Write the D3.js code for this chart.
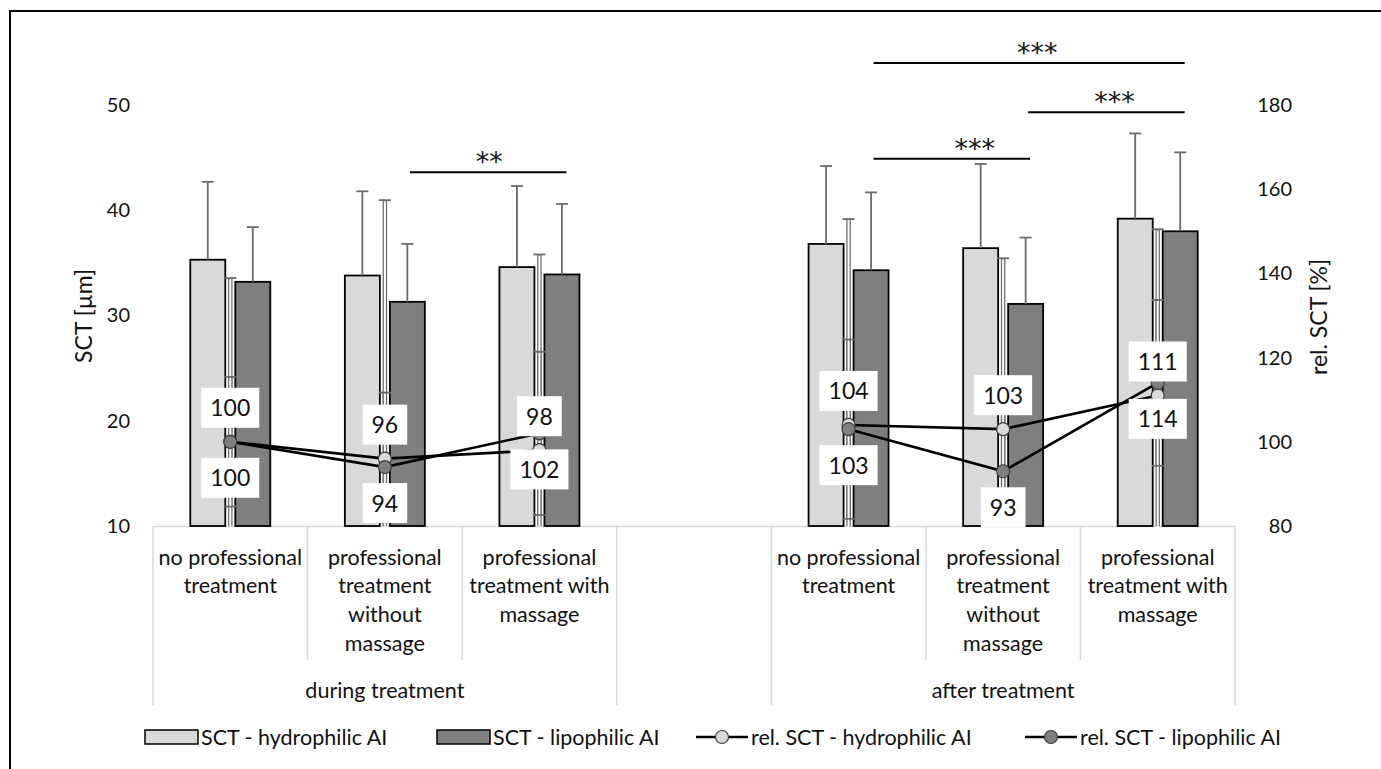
<!DOCTYPE html>
<html><head><meta charset="utf-8">
<script src="https://cdn.jsdelivr.net/npm/d3@7"></script>
<style>
body{margin:0;background:#fff}
text{font-family:Lato,"Open Sans",sans-serif;fill:#111}
</style>
</head><body>
<svg id="chart" width="1381" height="769"></svg>
<script>
// ---- data ----
const categories = [
  "no professional\ntreatment",
  "professional\ntreatment\nwithout\nmassage",
  "professional\ntreatment with\nmassage",
  "",
  "no professional\ntreatment",
  "professional\ntreatment\nwithout\nmassage",
  "professional\ntreatment with\nmassage"
];
const groupNames = ["during treatment", "after treatment"];
const groupStart = [0, 4];
const groupEnd = [2, 6];

const sctHydro   = [35.3, 33.8, 34.6, null, 36.8, 36.4, 39.2];
const sctHydroSD = [7.4, 8.0, 7.7, null, 7.4, 8.0, 8.1];
const sctLipo    = [33.2, 31.3, 33.9, null, 34.3, 31.1, 38.0];
const sctLipoSD  = [5.2, 5.5, 6.7, null, 7.4, 6.3, 7.5];

const relHydro   = [100, 96, 98, null, 104, 103, 111];
const relHydroSD = [38.9, 61.4, 46.5, null, 48.9, 40.6, 39.5];
const relLipo    = [100, 94, 102, null, 103, 93, 114];
const relLipoSD  = [15.4, 17.7, 19.4, null, 21.3, 22.0, 19.7];

const leftTicks  = [10, 20, 30, 40, 50];
const rightTicks = [80, 100, 120, 140, 160, 180];

const sigFrom  = [1, 4, 5, 4];
const sigTo    = [2, 5, 6, 6];
const sigLevel = [43.6, 44.9, 49.3, 54.0];   // in SCT units (left axis)
const sigText  = ["**", "***", "***", "***"];

const seriesNames = ["SCT - hydrophilic AI", "SCT - lipophilic AI", "rel. SCT - hydrophilic AI", "rel. SCT - lipophilic AI"];

// ---- styles ----
const LIGHT = "#d9d9d9", DARK = "#7f7f7f";
const FS = "21.5px";

const svg = d3.select("#chart");
svg.append("rect").attr("x", 10).attr("y", 11).attr("width", 1500).attr("height", 900)
  .attr("fill", "none").attr("stroke", "#000").attr("stroke-width", 2);

const x = d3.scaleBand().domain(d3.range(categories.length)).range([153, 1235]).padding(0);
const cx = i => x(i) + x.bandwidth() / 2;
const yL = d3.scaleLinear().domain([10, 50]).range([526, 105]);
const yR = d3.scaleLinear().domain([80, 180]).range([526, 105]);
const sub = d3.scaleBand().domain([0, 1]).range([-40, 40]).paddingInner(0.222);

// axes
const gL = svg.append("g").attr("transform", "translate(153,0)")
  .call(d3.axisLeft(yL).tickValues(leftTicks).tickSize(0).tickPadding(23));
gL.select(".domain").remove();
const gR = svg.append("g").attr("transform", "translate(1235,0)")
  .call(d3.axisRight(yR).tickValues(rightTicks).tickSize(0).tickPadding(57));
gR.select(".domain").remove();
gR.selectAll("text").attr("text-anchor", "end");
svg.selectAll(".tick text").style("font-size", "20px").style("font-family", "Lato").attr("fill", "#111");

svg.append("text").attr("transform", "translate(84,316) rotate(-90)")
  .attr("text-anchor", "middle").attr("dy", "0.35em").style("font-size", "23px").text("SCT [µm]");
svg.append("text").attr("transform", "translate(1319,317) rotate(-90)")
  .attr("text-anchor", "middle").attr("dy", "0.35em").style("font-size", "23px").text("rel. SCT [%]");

// category axis
const axG = svg.append("g").attr("stroke", "#d9d9d9").attr("stroke-width", 1.5);
axG.append("line").attr("x1", x(0)).attr("x2", x(6) + x.bandwidth()).attr("y1", 526.5).attr("y2", 526.5);
categories.forEach((c, i) => {
  if (i === 0) return;
  const isGroupEdge = groupStart.includes(i) || groupEnd.map(e => e + 1).includes(i);
  axG.append("line").attr("x1", x(i)).attr("x2", x(i)).attr("y1", 526).attr("y2", isGroupEdge ? 705 : 660);
});
axG.append("line").attr("x1", x(0)).attr("x2", x(0)).attr("y1", 526).attr("y2", 705);
axG.append("line").attr("x1", x(6) + x.bandwidth()).attr("x2", x(6) + x.bandwidth()).attr("y1", 526).attr("y2", 705);

categories.forEach((c, i) => {
  if (!c) return;
  const t = svg.append("text").attr("text-anchor", "middle").style("font-size", FS);
  c.split("\n").forEach((ln, k) => {
    t.append("tspan").attr("x", cx(i)).attr("y", 564.5 + k * 28.7).text(ln);
  });
});
groupNames.forEach((g, k) => {
  const xm = (x(groupStart[k]) + x(groupEnd[k]) + x.bandwidth()) / 2;
  svg.append("text").attr("x", xm).attr("y", 697.5).attr("text-anchor", "middle")
    .style("font-size", FS).text(g);
});

// bars
const barSeries = [
  {v: sctHydro, sd: sctHydroSD, fill: LIGHT, k: 0},
  {v: sctLipo, sd: sctLipoSD, fill: DARK, k: 1}
];
barSeries.forEach(s => {
  const idx = d3.range(s.v.length).filter(i => s.v[i] != null);
  svg.append("g").selectAll("rect").data(idx).join("rect")
    .attr("x", i => cx(i) + sub(s.k)).attr("width", sub.bandwidth())
    .attr("y", i => yL(s.v[i])).attr("height", i => yL(10) - yL(s.v[i]))
    .attr("fill", s.fill).attr("stroke", "#000").attr("stroke-width", 1.8);
  const eg = svg.append("g").attr("stroke", "#6b6b6b").attr("stroke-width", 1.8);
  idx.forEach(i => {
    const bx = cx(i) + sub(s.k) + sub.bandwidth() / 2;
    eg.append("line").attr("x1", bx).attr("x2", bx).attr("y1", yL(s.v[i])).attr("y2", yL(s.v[i] + s.sd[i]));
    eg.append("line").attr("x1", bx - 6).attr("x2", bx + 6).attr("y1", yL(s.v[i] + s.sd[i])).attr("y2", yL(s.v[i] + s.sd[i]));
  });
});

// rel error bars (double line style)
const relSeries = [
  {v: relHydro, sd: relHydroSD, fill: LIGHT, above: true},
  {v: relLipo, sd: relLipoSD, fill: DARK, above: false}
];
relSeries.forEach(s => {
  const eg = svg.append("g");
  d3.range(s.v.length).filter(i => s.v[i] != null).forEach(i => {
    const top = yR(s.v[i] + s.sd[i]);
    const lo = Math.max(80, s.v[i] - s.sd[i]);
    const bot = yR(lo);
    eg.append("line").attr("x1", cx(i)).attr("x2", cx(i)).attr("y1", top).attr("y2", bot)
      .attr("stroke", "#6b6b6b").attr("stroke-width", 4.5);
    eg.append("line").attr("x1", cx(i)).attr("x2", cx(i)).attr("y1", top + 1).attr("y2", bot)
      .attr("stroke", "#fff").attr("stroke-width", 2);
    eg.append("line").attr("x1", cx(i) - 6).attr("x2", cx(i) + 6).attr("y1", top).attr("y2", top)
      .attr("stroke", "#6b6b6b").attr("stroke-width", 1.8);
    if (s.v[i] - s.sd[i] > 80)
      eg.append("line").attr("x1", cx(i) - 6).attr("x2", cx(i) + 6).attr("y1", bot).attr("y2", bot)
        .attr("stroke", "#6b6b6b").attr("stroke-width", 1.8);
  });
});

// lines + markers
const line = d3.line().defined(d => d.v != null).x(d => cx(d.i)).y(d => yR(d.v));
relSeries.forEach(s => {
  const pts = s.v.map((v, i) => ({v, i}));
  svg.append("path").datum(pts).attr("d", line).attr("fill", "none")
    .attr("stroke", "#000").attr("stroke-width", 2.6);
});
relSeries.forEach(s => {
  const idx = d3.range(s.v.length).filter(i => s.v[i] != null);
  svg.append("g").selectAll("circle").data(idx).join("circle")
    .attr("cx", i => cx(i)).attr("cy", i => yR(s.v[i])).attr("r", 6.5)
    .attr("fill", s.fill).attr("stroke", "#404040").attr("stroke-width", 1.2);
});

// data labels
relSeries.forEach(s => {
  d3.range(s.v.length).filter(i => s.v[i] != null).forEach(i => {
    const my = yR(s.v[i]);
    const g = svg.append("g");
    const t = g.append("text").attr("x", cx(i)).attr("text-anchor", "middle")
      .style("font-size", "23px").text(s.v[i]);
    const w = t.node().getComputedTextLength() + 18;
    const y0 = s.above ? my - 54 : my + 16;
    g.insert("rect", "text").attr("x", cx(i) - w / 2).attr("y", y0).attr("width", w).attr("height", 40)
      .attr("fill", "#fff");
    t.attr("y", y0 + 28.5);
  });
});

// significance brackets
const starShift = [1, 23, 8, 8];
sigFrom.forEach((f, k) => {
  const x1 = cx(f) + 25, x2 = cx(sigTo[k]) + 27, yy = yL(sigLevel[k]);
  svg.append("line").attr("x1", x1).attr("x2", x2).attr("y1", yy).attr("y2", yy)
    .attr("stroke", "#000").attr("stroke-width", 2);
  svg.append("text").attr("x", (x1 + x2) / 2 + starShift[k]).attr("y", yy - 1)
    .attr("text-anchor", "middle").style("font-size", "27px")
    .style("font-family", "'DejaVu Sans'").text(sigText[k]);
});

// legend
const legX = [145, 437, 696, 1025];
const legG = svg.append("g");
seriesNames.forEach((n, k) => {
  const lx = legX[k], ly = 737;
  if (k < 2) {
    legG.append("rect").attr("x", lx).attr("y", ly - 7).attr("width", 53).attr("height", 14)
      .attr("fill", k === 0 ? LIGHT : DARK).attr("stroke", "#000").attr("stroke-width", 1.5);
    legG.append("text").attr("x", lx + 56).attr("y", ly).attr("dy", "0.35em").style("font-size", FS).text(n);
  } else {
    legG.append("line").attr("x1", lx).attr("x2", lx + 52).attr("y1", ly).attr("y2", ly)
      .attr("stroke", "#000").attr("stroke-width", 2.6);
    legG.append("circle").attr("cx", lx + 26).attr("cy", ly).attr("r", 6.5)
      .attr("fill", k === 2 ? LIGHT : DARK).attr("stroke", "#404040").attr("stroke-width", 1.2);
    legG.append("text").attr("x", lx + 55).attr("y", ly).attr("dy", "0.35em").style("font-size", FS).text(n);
  }
});
</script>
</body></html>
